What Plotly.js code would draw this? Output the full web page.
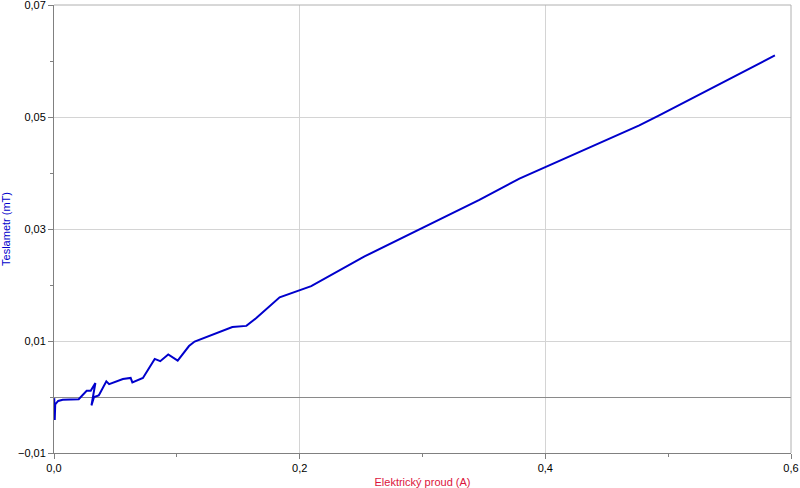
<!DOCTYPE html>
<html>
<head>
<meta charset="utf-8">
<script src="https://cdn.plot.ly/plotly-3.0.1.min.js"></script>
<style>html,body{margin:0;padding:0;background:#fff;}#chart{width:800px;height:488px;}</style>
</head>
<body>
<div id="chart"></div>
<script>
// Elektrický proud (A)
const current = [0.0002, 0.0006, 0.0010, 0.0034, 0.0071, 0.0201, 0.0266, 0.0299, 0.0337, 0.0305,
  0.0326, 0.0364, 0.0372, 0.0426, 0.0449, 0.0475, 0.0561, 0.0624, 0.0638, 0.0724,
  0.0820, 0.0865, 0.0930, 0.1007, 0.1099, 0.1145, 0.1416, 0.1452, 0.1566, 0.1647,
  0.1837, 0.2094, 0.2528, 0.3002, 0.3463, 0.3789, 0.4765, 0.4927, 0.5869];
// Teslametr (mT)
const field = [-0.0002, -0.0041, -0.0013, -0.0007, -0.0005, -0.0004, 0.0011, 0.0011, 0.0025, -0.0015,
  0.0000, 0.0003, 0.0006, 0.0028, 0.0023, 0.0025, 0.0032, 0.0034, 0.0026, 0.0034,
  0.0068, 0.0064, 0.0076, 0.0065, 0.0091, 0.0099, 0.0122, 0.0125, 0.0127, 0.0141,
  0.0178, 0.0198, 0.0251, 0.0302, 0.0352, 0.0390, 0.0485, 0.0503, 0.0610];

const xTitle = 'Elektrický proud (A)';
const yTitle = 'Teslametr (mT)';

const trace = {
  x: current, y: field, type: 'scatter', mode: 'lines',
  line: {color: '#0000cc', width: 2},
  hoverinfo: 'skip'
};

const layout = {
  width: 800, height: 488,
  margin: {l: 54, r: 9, t: 5, b: 35},
  paper_bgcolor: '#fff', plot_bgcolor: '#fff',
  separators: ',.',
  font: {family: 'Liberation Sans, Arial, sans-serif', size: 11, color: '#000'},
  showlegend: false,
  xaxis: {
    range: [0, 0.6000001], tick0: 0, dtick: 0.2, tickformat: '.1f',
    ticklabeloverflow: 'allow',
    showgrid: true, gridcolor: '#d4d4d4', gridwidth: 1,
    zeroline: false,
    showline: true, linecolor: '#808080', linewidth: 1, mirror: false,
    ticks: 'outside', ticklen: 5, tickcolor: '#808080',
    minor: {dtick: 0.1, ticks: 'outside', ticklen: 3, tickcolor: '#808080', showgrid: false},
    title: {text: xTitle, font: {color: '#dc143c', size: 11}, standoff: 6}
  },
  yaxis: {
    range: [-0.01, 0.0700001], tick0: -0.01, dtick: 0.02, tickformat: '.2f',
    ticklabeloverflow: 'allow',
    showgrid: true, gridcolor: '#d4d4d4', gridwidth: 1,
    zeroline: true, zerolinecolor: '#8a8a8a', zerolinewidth: 1,
    showline: true, linecolor: '#808080', linewidth: 1,
    ticks: 'outside', ticklen: 5, tickcolor: '#808080',
    minor: {dtick: 0.01, ticks: 'outside', ticklen: 3, tickcolor: '#808080', showgrid: false},
    title: {text: yTitle, font: {color: '#0000cc', size: 11}, standoff: 6}
  },
  shapes: [
    {type: 'line', xref: 'paper', yref: 'paper', x0: 0, x1: 1, y0: 1, y1: 1, line: {color: '#b0b0b0', width: 1}},
    {type: 'line', xref: 'paper', yref: 'paper', x0: 1, x1: 1, y0: 0, y1: 1, line: {color: '#b0b0b0', width: 1}}
  ]
};

Plotly.newPlot('chart', [trace], layout, {staticPlot: true, displayModeBar: false});
</script>
</body>
</html>
